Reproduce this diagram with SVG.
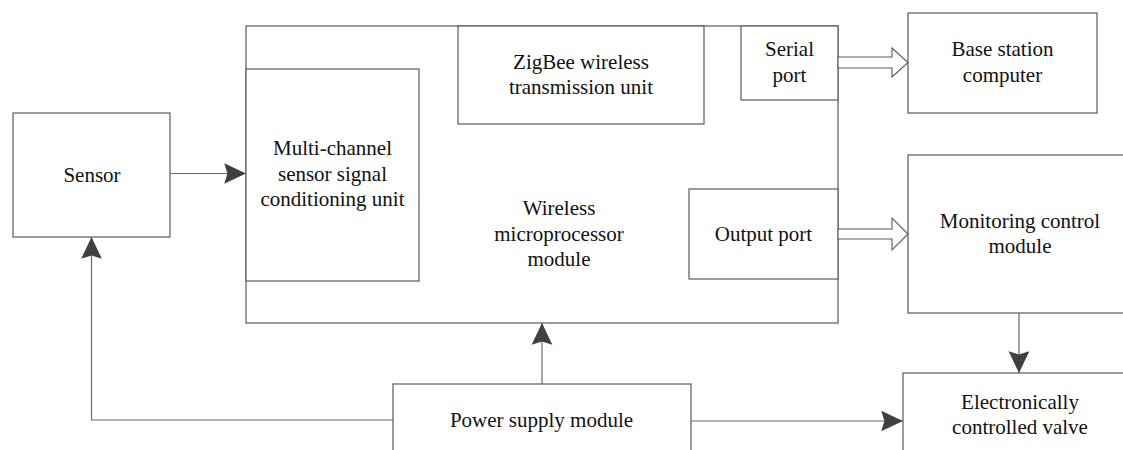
<svg xmlns="http://www.w3.org/2000/svg" width="1123" height="450" viewBox="0 0 1123 450">
<defs>
<style>
.box{fill:#fff;stroke:#5a5a5a;stroke-width:1.2}
.inner{fill:#fff;stroke:#5a5a5a;stroke-width:1.2}
.ln{fill:none;stroke:#6a6a6a;stroke-width:1.2}
.hol{fill:#fff;stroke:#5a5a5a;stroke-width:1.1}
.t{font-family:'Liberation Serif','Times New Roman','DejaVu Serif',serif;font-size:21px;fill:#111;text-anchor:middle}
</style>
<marker id="ah" markerUnits="userSpaceOnUse" markerWidth="24" markerHeight="24" viewBox="-21 -11 22 22" refX="0" refY="0" orient="auto">
<path d="M0,0 L-20,-9.5 L-17,0 L-20,9.5 Z" fill="#404040"/>
</marker>
</defs>
<rect width="1123" height="450" fill="#fff"/>

<g id="sensor">
<rect class="box" x="13" y="113" width="157" height="124"/>
<text class="t" font-family="Liberation Serif, serif" x="92" y="182">Sensor</text>
</g>

<g id="wireless-module">
<rect class="box" x="246" y="26" width="592" height="297"/>
<text class="t" font-family="Liberation Serif, serif" x="559" y="215">Wireless</text>
<text class="t" font-family="Liberation Serif, serif" x="559" y="240.5">microprocessor</text>
<text class="t" font-family="Liberation Serif, serif" x="559" y="266">module</text>
</g>

<g id="conditioning-unit">
<rect class="inner" x="246" y="69" width="173" height="212"/>
<text class="t" font-family="Liberation Serif, serif" x="332.5" y="155">Multi-channel</text>
<text class="t" font-family="Liberation Serif, serif" x="332.5" y="180.5">sensor signal</text>
<text class="t" font-family="Liberation Serif, serif" x="332.5" y="206">conditioning unit</text>
</g>

<g id="zigbee-unit">
<rect class="inner" x="458" y="26" width="246" height="98"/>
<text class="t" font-family="Liberation Serif, serif" x="581" y="69">ZigBee wireless</text>
<text class="t" font-family="Liberation Serif, serif" x="581" y="94">transmission unit</text>
</g>

<g id="serial-port">
<rect class="inner" x="741" y="26" width="97" height="74"/>
<text class="t" font-family="Liberation Serif, serif" x="789.5" y="56">Serial</text>
<text class="t" font-family="Liberation Serif, serif" x="789.5" y="81.5">port</text>
</g>

<g id="output-port">
<rect class="inner" x="689" y="189" width="149" height="90"/>
<text class="t" font-family="Liberation Serif, serif" x="763.5" y="241">Output port</text>
</g>

<g id="base-station">
<rect class="box" x="908" y="13" width="189" height="100"/>
<text class="t" font-family="Liberation Serif, serif" x="1002.5" y="56">Base station</text>
<text class="t" font-family="Liberation Serif, serif" x="1002.5" y="81.5">computer</text>
</g>

<g id="monitoring-module">
<rect class="box" x="908" y="155" width="230" height="158"/>
<text class="t" font-family="Liberation Serif, serif" x="1020" y="228">Monitoring control</text>
<text class="t" font-family="Liberation Serif, serif" x="1020" y="253">module</text>
</g>

<g id="valve">
<rect class="box" x="903" y="373" width="240" height="100"/>
<text class="t" font-family="Liberation Serif, serif" x="1020" y="409">Electronically</text>
<text class="t" font-family="Liberation Serif, serif" x="1020" y="434">controlled valve</text>
</g>

<g id="power-supply">
<rect class="box" x="393" y="384" width="298" height="90"/>
<text class="t" font-family="Liberation Serif, serif" x="541.5" y="427">Power supply module</text>
</g>

<g id="connectors">
<line class="ln" x1="170" y1="173.5" x2="246" y2="173.5" marker-end="url(#ah)"/>
<polyline class="ln" points="393,420 91.5,420 91.5,237" marker-end="url(#ah)"/>
<line class="ln" x1="542" y1="384" x2="542" y2="323" marker-end="url(#ah)"/>
<line class="ln" x1="691" y1="421" x2="903" y2="421" marker-end="url(#ah)"/>
<line class="ln" x1="1019" y1="313" x2="1019" y2="373" marker-end="url(#ah)"/>
<polygon class="hol" points="838,57 892,57 892,48 908,62.5 892,77 892,68 838,68"/>
<polygon class="hol" points="838,229 892,229 892,218 908,234 892,250 892,239 838,239"/>
</g>
</svg>
